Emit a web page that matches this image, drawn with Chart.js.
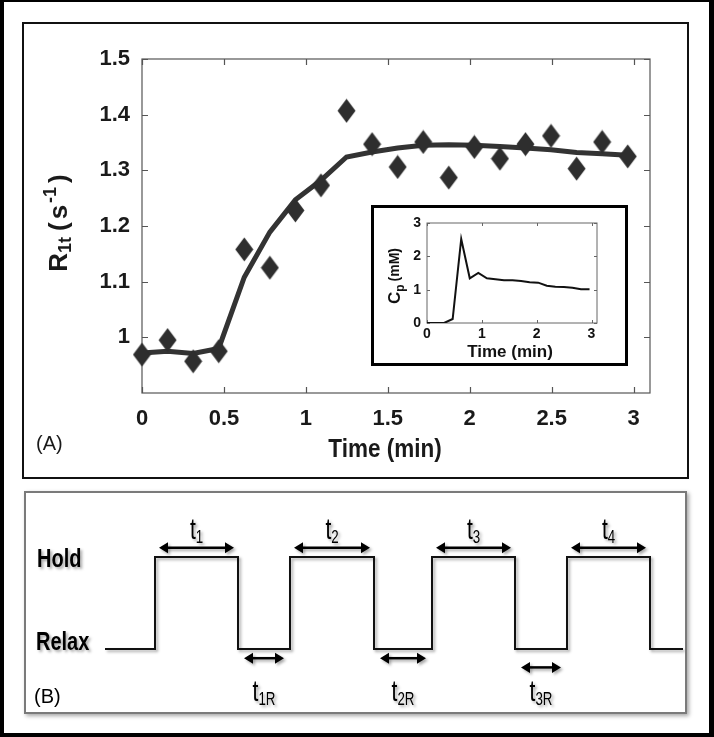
<!DOCTYPE html>
<html>
<head>
<meta charset="utf-8">
<script src="https://cdn.jsdelivr.net/npm/chart.js@4.4.0/dist/chart.umd.min.js"></script>
<style>
  html, body { margin: 0; padding: 0; background: #000; }
  body { width: 714px; height: 737px; position: relative; overflow: hidden; }
  #sheet { position: absolute; left: 4px; top: 2px; width: 705px; height: 731px; background: #fff; }
  #panelA { position: absolute; left: 22px; top: 22px; width: 663px; height: 453px; border: 2px solid #111; background: #fff; }
  #insetBox { position: absolute; left: 371px; top: 205px; width: 251px; height: 155px; border: 3px solid #000; background: #fff; }
  #panelB { position: absolute; left: 24px; top: 491px; width: 659px; height: 219px; border: 2px solid #7a7a7a; background: #fff;
            box-shadow: 2px 2px 4px rgba(0,0,0,0.35); }
  canvas { position: absolute; left: 0; top: 0; }
</style>
</head>
<body>
<div id="sheet"></div>
<div id="panelA"><canvas id="mainChart" width="663" height="453"></canvas></div>
<div id="insetBox"><canvas id="insetChart" width="251" height="155"></canvas></div>
<div id="panelB"><canvas id="waveChart" width="659" height="219"></canvas></div>

<script>
/* ---------- DATA ---------- */
const times = [0, 0.156, 0.312, 0.468, 0.624, 0.78, 0.936, 1.092, 1.248, 1.404,
               1.56, 1.716, 1.872, 2.028, 2.184, 2.34, 2.496, 2.652, 2.808, 2.964];
const r1tMeasured = [0.969, 0.995, 0.957, 0.975, 1.158, 1.125, 1.228, 1.273, 1.407, 1.347,
                     1.306, 1.351, 1.287, 1.342, 1.321, 1.347, 1.362, 1.303, 1.351, 1.325];
const r1tFit = [0.972, 0.975, 0.971, 0.98, 1.108, 1.189, 1.247, 1.282, 1.324, 1.333,
                1.34, 1.345, 1.346, 1.345, 1.343, 1.34, 1.337, 1.332, 1.33, 1.327];
const cpValues = [0, 0, 0, 0.12, 2.52, 1.34, 1.5, 1.34, 1.31, 1.28,
                  1.28, 1.26, 1.22, 1.21, 1.12, 1.09, 1.08, 1.06, 1.01, 1.01];

const mainXTicks = [0, 0.5, 1, 1.5, 2, 2.5, 3];
const mainYTicks = [1, 1.1, 1.2, 1.3, 1.4, 1.5];
const insetTicks = [0, 1, 2, 3];

// breath-hold protocol: phase names, level (1 = hold, 0 = relax), durations (a.u.)
const phaseLabels = ["", "t1", "t1R", "t2", "t2R", "t3", "t3R", "t4", ""];
const phaseLevels = [0, 1, 0, 1, 0, 1, 0, 1, 0];
const phaseDurations = [50, 83, 52, 84, 58, 83, 52, 83, 33];
const relaxArrowLevels = [-0.1, -0.1, -0.2];

const SANS = "'Liberation Sans', Arial, sans-serif";

/* ---------- HELPERS ---------- */
function diamondImage(w, h, color) {
  const c = document.createElement("canvas");
  c.width = w; c.height = h;
  const g = c.getContext("2d");
  g.fillStyle = color;
  g.beginPath();
  g.moveTo(w / 2, 0.5); g.lineTo(w - 0.5, h / 2); g.lineTo(w / 2, h - 0.5); g.lineTo(0.5, h / 2);
  g.closePath(); g.fill();
  return c;
}

// draws text made of parts [{t, size, dy}] centered on (x, y), optionally rotated / condensed
function richText(ctx, parts, x, y, rot, weight, sx) {
  ctx.save();
  ctx.translate(x, y);
  if (rot) ctx.rotate(rot);
  if (sx) ctx.scale(sx, 1);
  ctx.textBaseline = "middle";
  ctx.textAlign = "left";
  let total = 0;
  parts.forEach(p => {
    ctx.font = `${weight} ${p.size}px ${SANS}`;
    p.w = ctx.measureText(p.t).width + (p.gap || 0);
    total += p.w;
  });
  let cx = -total / 2;
  parts.forEach(p => {
    ctx.font = `${weight} ${p.size}px ${SANS}`;
    ctx.fillText(p.t, cx, p.dy || 0);
    cx += p.w;
  });
  ctx.restore();
}

function condensedLeft(ctx, text, x, y) {
  ctx.save();
  ctx.translate(x, y);
  ctx.scale(0.8, 1);
  ctx.font = `bold 25px ${SANS}`;
  ctx.textAlign = "left";
  ctx.textBaseline = "middle";
  ctx.fillText(text, 0, 0);
  ctx.restore();
}

const matlabBox = {
  id: "matlabBox",
  beforeDatasetsDraw(chart, args, opts) {
    const { ctx, chartArea: a, scales: { x, y } } = chart;
    ctx.save();
    ctx.strokeStyle = opts.color;
    ctx.lineWidth = opts.width;
    ctx.strokeRect(a.left, a.top, a.width, a.height);
    ctx.beginPath();
    opts.xTicks.forEach(v => {
      const px = Math.round(x.getPixelForValue(v)) + 0.5;
      ctx.moveTo(px, a.bottom); ctx.lineTo(px, a.bottom - opts.len);
      ctx.moveTo(px, a.top); ctx.lineTo(px, a.top + opts.len);
    });
    opts.yTicks.forEach(v => {
      const py = Math.round(y.getPixelForValue(v)) + 0.5;
      ctx.moveTo(a.left, py); ctx.lineTo(a.left + opts.len, py);
      ctx.moveTo(a.right, py); ctx.lineTo(a.right - opts.len, py);
    });
    ctx.stroke();
    ctx.restore();
  }
};

function fmt(v) { return Number(v.toFixed(2)).toString(); }

/* ---------- PANEL A: main chart ---------- */
const diamond = diamondImage(19, 25, "#2e2e2e");

new Chart(document.getElementById("mainChart"), {
  type: "scatter",
  data: {
    datasets: [
      {
        label: "fit",
        data: times.map((t, i) => ({ x: t, y: r1tFit[i] })),
        showLine: true,
        borderColor: "#333",
        borderWidth: 5,
        pointRadius: 0,
        clip: false,
        order: 2
      },
      {
        label: "measured",
        data: times.map((t, i) => ({ x: t, y: r1tMeasured[i] })),
        pointStyle: diamond,
        pointRadius: 10,
        clip: false,
        order: 1
      }
    ]
  },
  options: {
    responsive: false,
    animation: false,
    layout: { padding: { left: 0, right: 37, top: 35, bottom: 0 } },
    plugins: {
      legend: { display: false },
      tooltip: { enabled: false },
      matlabBox: { color: "#555", width: 1.2, len: 6, xTicks: mainXTicks, yTicks: mainYTicks }
    },
    scales: {
      x: {
        type: "linear", min: 0, max: 3.1,
        afterFit(s) { s.height = 84; },
        grid: { display: false, drawTicks: false },
        border: { display: false },
        afterBuildTicks(s) { s.ticks = mainXTicks.map(v => ({ value: v })); },
        ticks: { padding: 13, maxRotation: 0, autoSkip: false, color: "#1a1a1a",
                 font: { family: SANS, weight: "bold", size: 22 }, callback: v => fmt(v) }
      },
      y: {
        type: "linear", min: 0.9, max: 1.5,
        afterFit(s) { s.width = 118; },
        grid: { display: false, drawTicks: false },
        border: { display: false },
        afterBuildTicks(s) { s.ticks = mainYTicks.map(v => ({ value: v })); },
        ticks: { padding: 12, autoSkip: false, color: "#1a1a1a",
                 font: { family: SANS, weight: "bold", size: 22 }, callback: v => fmt(v) }
      }
    }
  },
  plugins: [matlabBox, {
    id: "mainTitles",
    afterDraw(chart) {
      const { ctx, chartArea: a } = chart;
      ctx.fillStyle = "#1a1a1a";
      richText(ctx, [{ t: "Time (min)", size: 25 }], (a.left + a.right) / 2 - 11, a.bottom + 57, 0, "bold", 0.9);
      richText(ctx, [
        { t: "R", size: 26 },
        { t: "1t", size: 18, dy: 6, gap: 6 },
        { t: "(", size: 26, gap: 3 },
        { t: "s", size: 26, gap: 2 },
        { t: "-1", size: 18, dy: -9, gap: 4 },
        { t: ")", size: 26 }
      ], 36, (a.top + a.bottom) / 2 - 3, -Math.PI / 2, "bold");
      ctx.font = `20px ${SANS}`;
      ctx.textAlign = "left";
      ctx.textBaseline = "middle";
      ctx.fillText("(A)", 12, a.bottom + 51);
    }
  }]
});

/* ---------- PANEL A: inset ---------- */
new Chart(document.getElementById("insetChart"), {
  type: "scatter",
  data: {
    datasets: [{
      label: "Cp",
      data: times.map((t, i) => ({ x: t, y: cpValues[i] })),
      showLine: true,
      borderColor: "#111",
      borderWidth: 2,
      pointRadius: 0
    }]
  },
  options: {
    responsive: false,
    animation: false,
    layout: { padding: { left: 0, right: 28, top: 15, bottom: 0 } },
    plugins: {
      legend: { display: false },
      tooltip: { enabled: false },
      matlabBox: { color: "#666", width: 1, len: 3, xTicks: insetTicks, yTicks: insetTicks }
    },
    scales: {
      x: {
        type: "linear", min: 0, max: 3.1,
        afterFit(s) { s.height = 40; },
        grid: { display: false, drawTicks: false },
        border: { display: false },
        afterBuildTicks(s) { s.ticks = insetTicks.map(v => ({ value: v })); },
        ticks: { padding: 3, maxRotation: 0, autoSkip: false, color: "#111",
                 font: { family: SANS, weight: "bold", size: 14 } }
      },
      y: {
        type: "linear", min: 0, max: 3,
        afterFit(s) { s.width = 53; },
        grid: { display: false, drawTicks: false },
        border: { display: false },
        afterBuildTicks(s) { s.ticks = insetTicks.map(v => ({ value: v })); },
        ticks: { padding: 6, autoSkip: false, color: "#111",
                 font: { family: SANS, weight: "bold", size: 14 } }
      }
    }
  },
  plugins: [matlabBox, {
    id: "insetTitles",
    afterDraw(chart) {
      const { ctx, chartArea: a } = chart;
      ctx.fillStyle = "#111";
      richText(ctx, [{ t: "Time (min)", size: 17 }], (a.left + a.right) / 2 - 2, a.bottom + 29, 0, "bold");
      richText(ctx, [
        { t: "C", size: 17 },
        { t: "p", size: 12, dy: 6, gap: 3 },
        { t: "(mM)", size: 14 }
      ], 21, (a.top + a.bottom) / 2 + 3, -Math.PI / 2, "bold");
    }
  }]
});

/* ---------- PANEL B: breath-hold protocol ---------- */
const phaseStarts = [];
phaseDurations.reduce((acc, d) => { phaseStarts.push(acc); return acc + d; }, 0);
const totalTime = phaseDurations.reduce((a, b) => a + b, 0);
const wavePoints = phaseStarts.map((s, i) => ({ x: s, y: phaseLevels[i] }));
wavePoints.push({ x: totalTime, y: phaseLevels[phaseLevels.length - 1] });

function drawArrow(ctx, x1, x2, y) {
  const head = 9, half = 5.5;
  ctx.beginPath();
  ctx.moveTo(x1 + head - 1, y); ctx.lineTo(x2 - head + 1, y);
  ctx.stroke();
  ctx.beginPath();
  ctx.moveTo(x1, y); ctx.lineTo(x1 + head, y - half); ctx.lineTo(x1 + head, y + half); ctx.closePath();
  ctx.moveTo(x2, y); ctx.lineTo(x2 - head, y - half); ctx.lineTo(x2 - head, y + half); ctx.closePath();
  ctx.fill();
}

function withShadow(ctx) {
  ctx.shadowColor = "rgba(0,0,0,0.35)";
  ctx.shadowBlur = 3;
  ctx.shadowOffsetX = 2;
  ctx.shadowOffsetY = 2;
}

new Chart(document.getElementById("waveChart"), {
  type: "scatter",
  data: {
    datasets: [{
      label: "protocol",
      data: wavePoints,
      showLine: true,
      stepped: true,
      borderColor: "#111",
      borderWidth: 2,
      pointRadius: 0,
      clip: false
    }]
  },
  options: {
    responsive: false,
    animation: false,
    layout: { padding: { left: 79, right: 2, top: 18, bottom: 17 } },
    plugins: { legend: { display: false }, tooltip: { enabled: false } },
    scales: {
      x: { type: "linear", min: 0, max: totalTime, display: false },
      y: { type: "linear", min: -0.5, max: 1.5, display: false }
    }
  },
  plugins: [{
    id: "protocolMarks",
    beforeDatasetDraw(chart) { chart.ctx.save(); withShadow(chart.ctx); },
    afterDatasetDraw(chart) { chart.ctx.restore(); },
    afterDraw(chart) {
      const { ctx, scales: { x, y } } = chart;
      ctx.save();
      withShadow(ctx);
      ctx.strokeStyle = "#000";
      ctx.fillStyle = "#000";
      ctx.lineWidth = 2.5;
      let relaxIdx = 0;
      phaseLabels.forEach((lab, i) => {
        if (!lab) return;
        const s = phaseStarts[i], e = s + phaseDurations[i];
        const hold = phaseLevels[i] === 1;
        const gap = hold ? 4 : 6;
        const ay = hold ? 1.1 : relaxArrowLevels[relaxIdx++];
        drawArrow(ctx, x.getPixelForValue(s + gap), x.getPixelForValue(e - gap), y.getPixelForValue(ay));
        const cx = x.getPixelForValue((s + e) / 2);
        const cy = y.getPixelForValue(hold ? 1.29 : -0.48);
        richText(ctx, [
          { t: "t", size: 30 },
          { t: lab.slice(1), size: 19, dy: 7 }
        ], cx, cy, 0, "500", 0.7);
      });
      condensedLeft(ctx, "Hold", 11, y.getPixelForValue(1) + 3);
      condensedLeft(ctx, "Relax", 10, y.getPixelForValue(0) - 6);
      ctx.restore();
      ctx.font = `20px ${SANS}`;
      ctx.fillStyle = "#000";
      ctx.textBaseline = "middle";
      ctx.fillText("(B)", 8, 204);
    }
  }]
});
</script>
</body>
</html>
